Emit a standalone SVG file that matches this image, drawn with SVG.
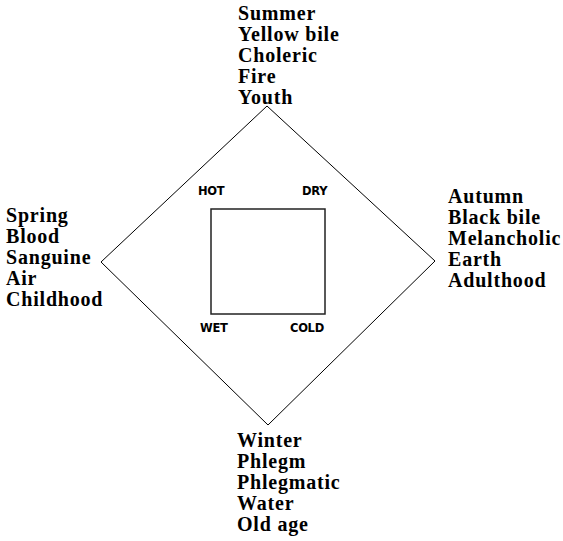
<svg xmlns="http://www.w3.org/2000/svg" width="563" height="541" viewBox="0 0 563 541">
<style>
.t{font-family:"Liberation Serif","Times New Roman",serif;font-weight:bold;font-size:20px;letter-spacing:0.8px;fill:#000}
.q{font-family:"DejaVu Sans",Verdana,sans-serif;font-weight:bold;font-size:11.5px;letter-spacing:-0.3px;fill:#000}
.ln{fill:none;stroke:#000;stroke-width:1}
</style>
<rect width="563" height="541" fill="#fff"/>
<g id="connectors">
<polygon id="diamond" class="ln" points="267,106 435,261 268,425 101,262"/>
</g>
<g id="center">
<rect x="211" y="209" width="114" height="105" fill="none" stroke="#222" stroke-width="1.5"/>
<text class="q" x="198" y="195">HOT</text>
<text class="q" x="302" y="195">DRY</text>
<text class="q" x="200" y="332">WET</text>
<text class="q" x="290" y="332">COLD</text>
</g>
<g id="summer">
<text class="t" x="238" y="20">Summer</text>
<text class="t" x="238" y="41">Yellow bile</text>
<text class="t" x="238" y="62">Choleric</text>
<text class="t" x="238" y="83">Fire</text>
<text class="t" x="238" y="104">Youth</text>
</g>
<g id="spring">
<text class="t" x="6" y="222">Spring</text>
<text class="t" x="6" y="243">Blood</text>
<text class="t" x="6" y="264">Sanguine</text>
<text class="t" x="6" y="285">Air</text>
<text class="t" x="6" y="306">Childhood</text>
</g>
<g id="autumn">
<text class="t" x="448" y="203">Autumn</text>
<text class="t" x="448" y="224">Black bile</text>
<text class="t" x="448" y="245">Melancholic</text>
<text class="t" x="448" y="266">Earth</text>
<text class="t" x="448" y="287">Adulthood</text>
</g>
<g id="winter">
<text class="t" x="237" y="447">Winter</text>
<text class="t" x="237" y="468">Phlegm</text>
<text class="t" x="237" y="489">Phlegmatic</text>
<text class="t" x="237" y="510">Water</text>
<text class="t" x="237" y="531">Old age</text>
</g>
</svg>
